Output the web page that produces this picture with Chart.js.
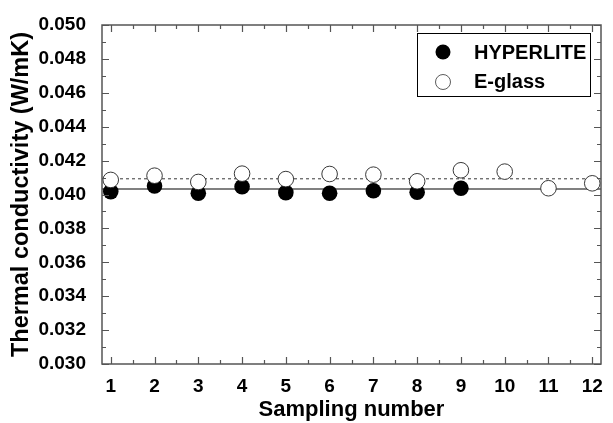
<!DOCTYPE html>
<html><head><meta charset="utf-8">
<script src="https://cdn.jsdelivr.net/npm/chart.js@4"></script>
<style>html,body{margin:0;padding:0;background:#fff}#wrap{width:613px;height:423px}</style>
</head>
<body><div id="wrap"><canvas id="c" width="613" height="423"></canvas></div>
<script>
const samples = [1,2,3,4,5,6,7,8,9,10,11,12];
const hyperlite = [0.04017,0.04050,0.04007,0.04046,0.04011,0.04007,0.04022,0.04013,0.04037];
const eglass = [0.04086,0.04111,0.04074,0.04123,0.04091,0.04121,0.04117,0.04078,0.04143,0.04135,0.04037,0.04066];
const hyperliteAvg = 0.04032;
const eglassAvg = 0.04093;
const yTicks = [0.030,0.032,0.034,0.036,0.038,0.040,0.042,0.044,0.046,0.048,0.050];
const xMin = 0.8, xMax = 12.2, yMin = 0.030, yMax = 0.050;
const seriesNames = ['HYPERLITE','E-glass'];

const FONT = "'Liberation Sans', Arial, sans-serif";

const tickPlugin = {
  id: 'insideTicks',
  afterDraw(chart) {
    const {ctx, chartArea: {left, right, top, bottom}, scales: {x, y}} = chart;
    ctx.save();
    ctx.strokeStyle = '#555';
    ctx.lineWidth = 1.2;
    ctx.beginPath();
    for (let i = 2; i <= 24; i++) {
      const v = i / 2;
      const px = Math.round(x.getPixelForValue(v)) + 0.5;
      const len = (i % 2 === 0) ? 7 : 4;
      ctx.moveTo(px, bottom); ctx.lineTo(px, bottom - len);
      ctx.moveTo(px, top); ctx.lineTo(px, top + len);
    }
    for (let i = 30; i <= 50; i++) {
      const v = i / 1000;
      const py = Math.round(y.getPixelForValue(v)) + 0.5;
      const len = (i % 2 === 0) ? 7 : 4;
      ctx.moveTo(left, py); ctx.lineTo(left + len, py);
      ctx.moveTo(right, py); ctx.lineTo(right - len, py);
    }
    ctx.stroke();
    ctx.lineWidth = 1.5;
    ctx.strokeRect(left, top, right - left, bottom - top);
    ctx.restore();
  }
};

const legendPlugin = {
  id: 'boxLegend',
  afterDraw(chart) {
    const ctx = chart.ctx;
    ctx.save();
    ctx.strokeStyle = '#000';
    ctx.lineWidth = 1;
    ctx.fillStyle = '#fff';
    ctx.fillRect(417.5, 33.5, 173, 63);
    ctx.strokeRect(417.5, 33.5, 173, 63);
    ctx.beginPath(); ctx.arc(443, 52, 7.5, 0, Math.PI*2); ctx.fillStyle = '#000'; ctx.fill();
    ctx.beginPath(); ctx.arc(443, 82, 7.5, 0, Math.PI*2); ctx.fillStyle = '#fff'; ctx.fill();
    ctx.lineWidth = 0.8; ctx.strokeStyle = '#333'; ctx.stroke();
    ctx.fillStyle = '#000';
    ctx.font = "bold 20px " + FONT;
    ctx.textBaseline = 'middle';
    ctx.fillText(seriesNames[0], 474, 53);
    ctx.fillText(seriesNames[1], 474, 82);
    ctx.restore();
  }
};

new Chart(document.getElementById('c'), {
  type: 'scatter',
  data: {
    datasets: [
      {
        label: seriesNames[1],
        data: eglass.map((v, i) => ({x: samples[i], y: v})),
        backgroundColor: '#fff',
        borderColor: '#222',
        borderWidth: 0.9,
        pointRadius: 7.8,
        order: 1
      },
      {
        label: seriesNames[0],
        data: hyperlite.map((v, i) => ({x: samples[i], y: v})),
        backgroundColor: '#000',
        borderColor: '#000',
        borderWidth: 0,
        pointRadius: 7.8,
        order: 2
      },
      {
        type: 'line',
        label: 'avg1',
        data: [{x: xMin, y: hyperliteAvg}, {x: xMax, y: hyperliteAvg}],
        borderColor: '#808080',
        borderWidth: 2,
        pointRadius: 0,
        fill: false,
        order: 3
      },
      {
        type: 'line',
        label: 'avg2',
        data: [{x: xMin, y: eglassAvg}, {x: xMax, y: eglassAvg}],
        borderColor: '#666',
        borderWidth: 1.3,
        borderDash: [3, 3],
        pointRadius: 0,
        fill: false,
        order: 3
      }
    ]
  },
  options: {
    responsive: false,
    devicePixelRatio: 1,
    animation: false,
    layout: {padding: {left: 0, right: 12, top: 25, bottom: 0}},
    plugins: {legend: {display: false}, tooltip: {enabled: false}},
    scales: {
      x: {
        type: 'linear', min: xMin, max: xMax,
        afterBuildTicks: s => { s.ticks = samples.map(v => ({value: v})); },
        afterFit: s => { s.height = 59; },
        grid: {display: false},
        border: {display: false},
        ticks: {color: '#000', font: {family: FONT, size: 19, weight: 'bold'}, padding: 3, callback: v => String(v), maxRotation: 0, autoSkip: false},
        title: {display: true, text: 'Sampling number', color: '#000', font: {family: FONT, size: 22, weight: 'bold'}, padding: {top: -2, bottom: 0}}
      },
      y: {
        type: 'linear', min: yMin, max: yMax,
        afterBuildTicks: s => { s.ticks = yTicks.map(v => ({value: v})); },
        afterFit: s => { s.width = 102; },
        grid: {display: false},
        border: {display: false},
        ticks: {color: '#000', font: {family: FONT, size: 19, weight: 'bold'}, padding: 8, callback: v => Number(v).toFixed(3), autoSkip: false},
        title: {display: true, text: 'Thermal conductivity (W/mK)', color: '#000', font: {family: FONT, size: 23.5, weight: 'bold'}, padding: {top: 7, bottom: 0}}
      }
    }
  },
  plugins: [tickPlugin, legendPlugin]
});
</script>
</body></html>
